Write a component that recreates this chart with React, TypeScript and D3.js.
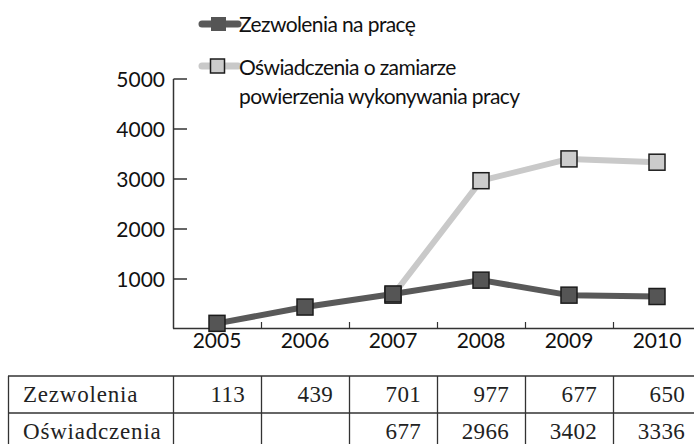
import React from "react";
import * as d3 from "d3";

const years = ["2005", "2006", "2007", "2008", "2009", "2010"];
const zezwolenia: (number | null)[] = [113, 439, 701, 977, 677, 650];
const oswiadczenia: (number | null)[] = [null, null, 677, 2966, 3402, 3336];
const yTicks = [1000, 2000, 3000, 4000, 5000];
const legendZez = ["Zezwolenia na pracę"];
const legendOsw = ["Oświadczenia o zamiarze", "powierzenia wykonywania pracy"];
const tableLabels = ["Zezwolenia", "Oświadczenia"];

const W = 694;
const H = 444;
const SANS = "Lato, 'Open Sans', sans-serif";
const SERIF = "'Liberation Serif', 'DejaVu Serif', serif";

const DARK_LINE = "#595959";
const DARK_FILL = "#555555";
const LIGHT_LINE = "#c9c9c9";
const LIGHT_FILL = "#cccccc";
const STROKE = "#1c1c1c";

export default function App() {
  const x = d3.scaleBand<string>().domain(years).range([173, 701]).padding(0);
  const y = d3.scaleLinear().domain([0, 5000]).range([329, 79]);
  const cx = (yr: string) => (x(yr) as number) + x.bandwidth() / 2;

  const line = d3
    .line<number | null>()
    .defined((d) => d !== null)
    .x((_, i) => cx(years[i]))
    .y((d) => y(d as number));

  const mk = 16;
  const tableTop = 376;
  const rowH = 37;
  const tableLeft = 8;
  const colEdges = [tableLeft, ...years.map((yr) => x(yr) as number), 701];
  const rows = [zezwolenia, oswiadczenia];

  return (
    <svg
      width={W}
      height={H}
      style={{ position: "fixed", left: 0, top: 0, background: "#fff" }}
    >
      {/* legend */}
      <g>
        <line x1={202} x2={238} y1={24} y2={24} stroke={DARK_LINE} strokeWidth={7} strokeLinecap="round" />
        <rect x={211} y={17} width={15} height={14} fill={DARK_FILL} />
        <text x={239} y={32} fontFamily={SANS} fontSize={21} letterSpacing={-0.6} fill="#111">
          {legendZez[0]}
        </text>
        <line x1={202} x2={238} y1={66} y2={66} stroke={LIGHT_LINE} strokeWidth={7} strokeLinecap="round" />
        <rect x={210.5} y={59} width={14} height={14} fill={LIGHT_FILL} stroke={STROKE} strokeWidth={1.5} />
        {legendOsw.map((t, i) => (
          <text
            key={t}
            x={239}
            y={75 + i * 29}
            fontFamily={SANS}
            fontSize={21}
            letterSpacing={-0.6}
            fill="#111"
          >
            {t}
          </text>
        ))}
      </g>

      {/* y axis */}
      <line x1={173.5} x2={173.5} y1={y(5000)} y2={328.5} stroke="#333" strokeWidth={1.5} />
      {yTicks.map((t) => (
        <g key={t}>
          <line x1={173.5} x2={187} y1={y(t)} y2={y(t)} stroke="#333" strokeWidth={1.5} />
          <text
            x={165}
            y={y(t)}
            dy="0.36em"
            textAnchor="end"
            fontFamily={SANS}
            fontSize={21}
            fill="#111"
          >
            {t}
          </text>
        </g>
      ))}

      {/* x axis */}
      <line x1={173} x2={W} y1={328.5} y2={328.5} stroke="#333" strokeWidth={1.5} />
      {years.slice(1).map((yr) => (
        <line
          key={yr}
          x1={(x(yr) as number) + 0.5}
          x2={(x(yr) as number) + 0.5}
          y1={328.5}
          y2={322}
          stroke="#333"
          strokeWidth={1.2}
        />
      ))}
      {years.map((yr) => (
        <text
          key={yr}
          x={cx(yr)}
          y={348}
          textAnchor="middle"
          fontFamily={SANS}
          fontSize={21}
          fill="#111"
        >
          {yr}
        </text>
      ))}

      {/* light series */}
      <path d={line(oswiadczenia) || ""} fill="none" stroke={LIGHT_LINE} strokeWidth={6} strokeLinejoin="round" />
      {oswiadczenia.map((v, i) =>
        v === null ? null : (
          <rect
            key={i}
            x={cx(years[i]) - mk / 2}
            y={y(v) - mk / 2}
            width={mk}
            height={mk}
            fill={LIGHT_FILL}
            stroke={STROKE}
            strokeWidth={1.5}
          />
        )
      )}

      {/* dark series */}
      <path d={line(zezwolenia) || ""} fill="none" stroke={DARK_LINE} strokeWidth={6} strokeLinejoin="round" />
      {zezwolenia.map((v, i) =>
        v === null ? null : (
          <rect
            key={i}
            x={cx(years[i]) - mk / 2}
            y={y(v) - mk / 2}
            width={mk}
            height={mk}
            fill={DARK_FILL}
            stroke={STROKE}
            strokeWidth={1.5}
          />
        )
      )}

      {/* table */}
      <g stroke="#333" strokeWidth={1.3}>
        {[0, 1, 2].map((r) => (
          <line key={r} x1={tableLeft} x2={701} y1={tableTop + r * rowH} y2={tableTop + r * rowH} />
        ))}
        {colEdges.map((cxe, i) => (
          <line key={i} x1={cxe + 0.5} x2={cxe + 0.5} y1={tableTop} y2={tableTop + 2 * rowH} />
        ))}
      </g>
      {tableLabels.map((lab, r) => (
        <g key={lab}>
          <text
            x={23}
            y={tableTop + r * rowH + 26}
            fontFamily={SERIF}
            fontSize={23}
            letterSpacing={0.8}
            fill="#222"
          >
            {lab}
          </text>
          {rows[r].map((v, i) =>
            v === null ? null : (
              <text
                key={i}
                x={(x(years[i]) as number) + x.bandwidth() - 16}
                y={tableTop + r * rowH + 26}
                textAnchor="end"
                fontFamily={SERIF}
                fontSize={23}
                letterSpacing={0.3}
                fill="#222"
              >
                {v}
              </text>
            )
          )}
        </g>
      ))}
    </svg>
  );
}
